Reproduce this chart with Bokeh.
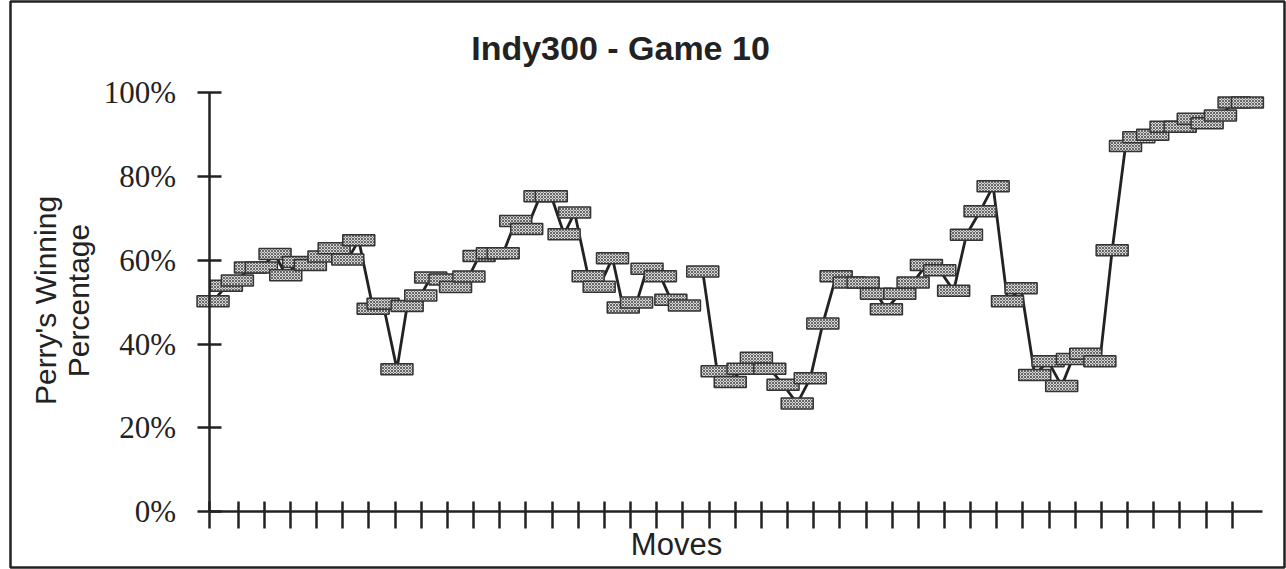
import math
from bokeh.plotting import figure
from bokeh.models import Range1d, FixedTicker, Label, CustomJSTickFormatter
from bokeh.embed import file_html
from bokeh.resources import INLINE

# ---------------- data ----------------
title_text = "Indy300 - Game 10"
x_title = "Moves"
y_title_lines = ["Perry's Winning", "Percentage"]

# position of each half-move along the move axis (in move units)
move_pos = [0.04, 0.55, 0.97, 1.47, 1.89, 2.41, 2.82, 3.31, 3.76, 4.28,
            4.67, 5.19, 5.61, 6.16, 6.54, 7.07, 7.46, 7.98, 8.36, 8.91,
            9.31, 9.82, 10.21, 10.72, 11.13, 11.61, 12.03, 12.54, 12.97, 13.46,
            13.86, 14.38, 14.80, 15.31, 15.72, 16.23, 16.63, 17.14, 17.54, 18.06,
            18.76, 19.31, 19.81, 20.30, 20.81, 21.32, 21.83, 22.37, 22.87, 23.35,
            23.86, 24.36, 24.89, 25.40, 25.78, 26.29, 26.80, 27.31, 27.82, 28.35,
            28.84, 29.36, 29.86, 30.41, 30.93, 31.45, 31.96, 32.48, 32.89, 33.40,
            33.94, 34.41, 34.92, 35.43, 35.96, 36.47, 37.01, 37.51, 38.04, 38.55,
            39.07, 39.58]
win_pct = [50.2, 53.9, 55.2, 58.3, 58.3, 61.5, 56.4, 59.6, 58.9, 60.9,
           62.9, 60.2, 64.8, 48.4, 49.6, 34.0, 49.1, 51.6, 55.9, 55.4,
           53.6, 56.1, 61.0, 61.7, 61.7, 69.4, 67.5, 75.3, 75.3, 66.2,
           71.4, 56.2, 53.7, 60.5, 48.7, 49.9, 58.0, 56.2, 50.6, 49.2,
           57.3, 33.5, 30.9, 34.1, 36.7, 34.1, 30.3, 25.8, 31.8, 44.9,
           56.2, 54.7, 54.7, 52.0, 48.3, 52.0, 54.7, 58.9, 57.6, 52.7,
           66.1, 71.7, 77.7, 50.2, 53.3, 32.6, 35.9, 30.0, 36.4, 37.7,
           35.9, 62.4, 87.3, 89.4, 90.0, 91.9, 91.9, 93.8, 92.7, 94.6,
           97.7, 97.7]
line_break_after = [40]          # the connecting line is interrupted here

move_ticks = list(range(1, 40))
pct_ticks = [0, 20, 40, 60, 80, 100]
pct_tick_labels = ["0%", "20%", "40%", "60%", "80%", "100%"]

# ---------------- layout ----------------
W, H = 1286, 569
PX_PER_MOVE = 26.16
PX_PER_PCT = 4.187
ORIGIN_X = 211.5      # px of move 0
ORIGIN_Y = 511.0      # px (from top) of 0 %
FRAME_L, FRAME_R, FRAME_T, FRAME_B = 10, 1284, 1, 567


def X(cx):
    return (cx - ORIGIN_X) / PX_PER_MOVE


def Y(cy):
    return (ORIGIN_Y - cy) / PX_PER_PCT


YAXIS_X = X(208.5)
XAXIS_END = X(1261.7)

p = figure(width=W, height=H, output_backend="svg", toolbar_location=None,
           x_range=Range1d(X(FRAME_L), X(FRAME_R)),
           y_range=Range1d(Y(FRAME_B), Y(FRAME_T)),
           min_border=0, min_border_left=FRAME_L, min_border_right=W - FRAME_R,
           min_border_top=FRAME_T, min_border_bottom=H - FRAME_B)
p.title.visible = False
p.grid.visible = False
p.background_fill_color = "white"
p.border_fill_color = "white"
p.outline_line_color = "#222222"
p.outline_line_width = 2.5

# x axis
xa = p.xaxis[0]
xa.fixed_location = 0
xa.bounds = (YAXIS_X, XAXIS_END)
xa.ticker = FixedTicker(ticks=[YAXIS_X] + move_ticks)
xa.formatter = CustomJSTickFormatter(code="return ''")
xa.axis_line_width = 2.5
xa.axis_line_color = "#222222"
xa.major_tick_in = 10
xa.major_tick_out = 17
xa.major_tick_line_width = 2.5
xa.major_tick_line_color = "#222222"
xa.minor_tick_line_color = None

# y axis
ya = p.yaxis[0]
ya.fixed_location = YAXIS_X
ya.bounds = (0, 100)
ya.ticker = FixedTicker(ticks=pct_ticks)
ya.major_label_overrides = {t: s for t, s in zip(pct_ticks, pct_tick_labels)}
ya.major_label_text_font = "Liberation Serif"
ya.major_label_text_font_size = "31px"
ya.major_label_text_color = "#222222"
ya.major_label_standoff = 21
ya.axis_line_width = 2.5
ya.axis_line_color = "#222222"
ya.major_tick_in = 12
ya.major_tick_out = 12
ya.major_tick_line_width = 2.5
ya.major_tick_line_color = "#222222"
ya.minor_tick_line_color = None

# connecting line (with its break)
cuts = [0] + line_break_after + [len(move_pos)]
xs = [move_pos[a:b] for a, b in zip(cuts[:-1], cuts[1:])]
ys = [win_pct[a:b] for a, b in zip(cuts[:-1], cuts[1:])]
p.multi_line(xs, ys, line_color="#222222", line_width=2.8)

# stippled boxes
p.rect(x=move_pos, y=win_pct, width=32, height=11,
       width_units="screen", height_units="screen",
       fill_color="#d8d8d8", line_color="#333333", line_width=1.5,
       hatch_pattern="diagonal_cross", hatch_scale=3.0, hatch_weight=1.0,
       hatch_color="#666666")

# texts
p.add_layout(Label(x=X(620), y=Y(47), text=title_text, text_align="center",
                   text_baseline="middle", text_font="Liberation Sans",
                   text_font_style="bold", text_font_size="34px",
                   text_color="#222222"))
p.add_layout(Label(x=X(676), y=Y(544), text=x_title, text_align="center",
                   text_baseline="middle", text_font="Liberation Sans",
                   text_font_size="31px", text_color="#222222"))
for cx, line in zip([45, 78], y_title_lines):
    p.add_layout(Label(x=X(cx), y=Y(300), text=line, angle=math.pi / 2,
                       text_align="center", text_baseline="middle",
                       text_font="Liberation Sans", text_font_size="30px",
                       text_color="#222222"))

open("out.html", "w").write(file_html(p, INLINE))
